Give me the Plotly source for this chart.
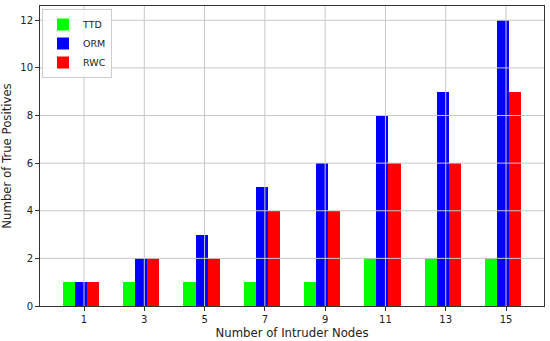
import numpy as np
import plotly.graph_objects as go

categories = ["1", "3", "5", "7", "9", "11", "13", "15"]
ttd = [1, 1, 1, 1, 1, 2, 2, 2]
orm = [1, 2, 3, 5, 6, 8, 9, 12]
rwc = [1, 2, 2, 4, 4, 6, 6, 9]
y_ticks = [0, 2, 4, 6, 8, 10, 12]

pos = np.arange(len(categories))
width = 0.2
series = [("TTD", ttd, "#00ff00", -0.25), ("ORM", orm, "#0000ff", -0.05), ("RWC", rwc, "#ff0000", 0.15)]

fig = go.Figure()
for name, vals, color, off in series:
    fig.add_trace(go.Bar(x=pos + off, y=vals, width=width, name=name,
                         marker=dict(color=color, line=dict(width=0))))

xr = [-0.35 - 0.38, 7.25 + 0.38]
yr = [0, 12.6]
grid = dict(color="#c8c8c8", width=1)
for p in pos:
    fig.add_shape(type="line", xref="x", yref="paper", x0=p, x1=p, y0=0, y1=1, line=grid, layer="above")
for t in y_ticks[1:]:
    fig.add_shape(type="line", xref="paper", yref="y", x0=0, x1=1, y0=t, y1=t, line=grid, layer="above")

axis_common = dict(showline=True, linecolor="#333333", linewidth=1, mirror=True,
                   ticks="outside", ticklen=4, tickcolor="#333333", showgrid=False,
                   zeroline=False, automargin=False, tickfont=dict(size=10, color="#222222"))
fig.update_layout(
    width=550, height=341,
    margin=dict(l=40, r=6, t=6, b=35),
    paper_bgcolor="white", plot_bgcolor="white",
    font=dict(family="DejaVu Sans", color="#222222"),
    barmode="overlay", bargap=0,
    xaxis=dict(range=xr, tickvals=list(pos), ticktext=categories,
               title=dict(text="Number of Intruder Nodes", font=dict(size=11.7), standoff=4),
               **axis_common),
    yaxis=dict(range=yr, tickvals=y_ticks,
               title=dict(text="Number of True Positives", font=dict(size=11.7), standoff=6),
               **axis_common),
    legend=dict(x=0.004, y=0.99, xanchor="left", yanchor="top",
                bgcolor="rgba(255,255,255,0.8)", bordercolor="#cccccc", borderwidth=1,
                font=dict(size=9.5), itemwidth=30, tracegroupgap=0),
    showlegend=True,
)
fig.write_html("out.html", post_script="document.body.style.margin='0';",
               config={"displayModeBar": False})
